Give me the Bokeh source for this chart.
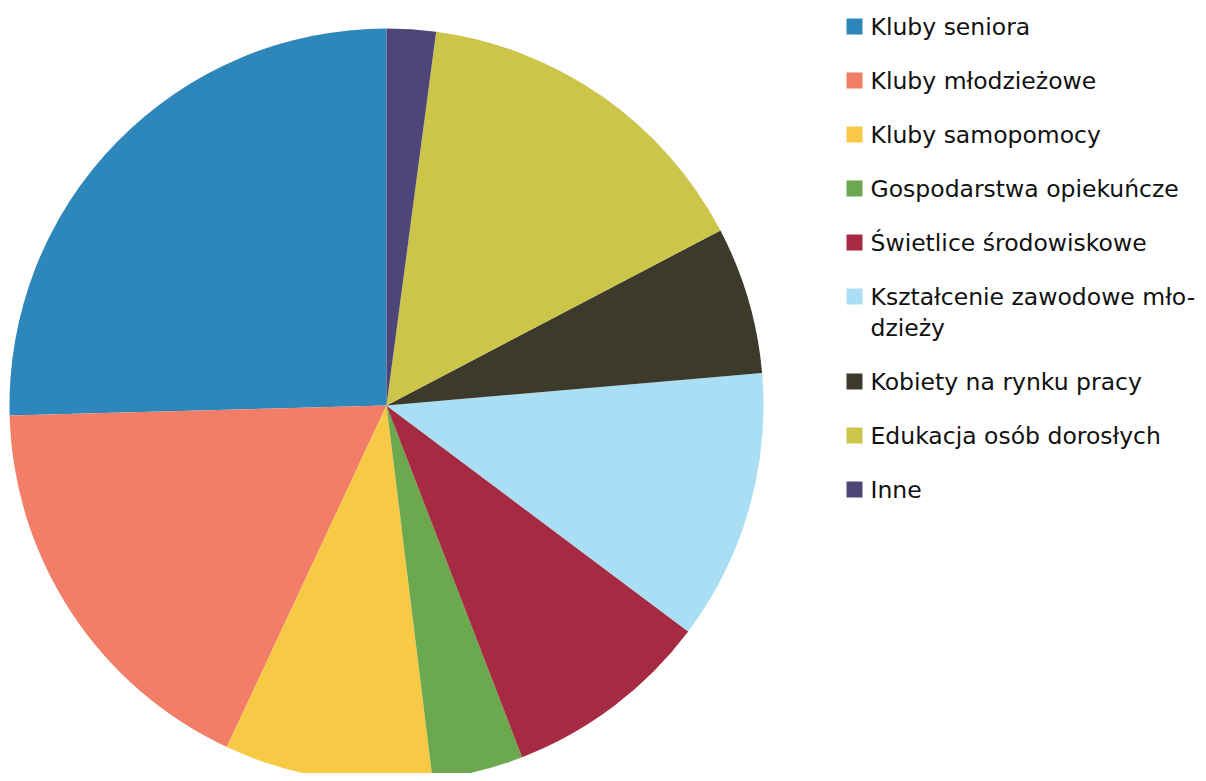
import math
from bokeh.plotting import figure
from bokeh.models import Range1d, ColumnDataSource
from bokeh.core.properties import value
from bokeh.embed import file_html
from bokeh.resources import INLINE

categories = ["Kluby seniora", "Kluby młodzieżowe", "Kluby samopomocy",
              "Gospodarstwa opiekuńcze", "Świetlice środowiskowe",
              "Kształcenie zawodowe mło-\ndzieży", "Kobiety na rynku pracy",
              "Edukacja osób dorosłych", "Inne"]
values = [25.4, 17.6, 8.9, 3.9, 8.9, 11.6, 6.3, 15.2, 2.1]
colors = ["#2E87BA", "#F27E67", "#F7C945", "#6BA84E", "#A62A42",
          "#A9DEF4", "#3C3A2B", "#CBC54A", "#4E4679"]

W, H = 1198, 773
p = figure(width=W, height=H, output_backend="svg", toolbar_location=None,
           x_range=Range1d(0, W), y_range=Range1d(781 - H, 781),
           min_border=0)
p.axis.visible = False
p.grid.visible = False
p.outline_line_color = None
p.background_fill_color = "white"

# pie: data coords x = px, y = 781 - py
cx, cy, r = 386, 781 - 405, 377
total = sum(values)
starts, ends = [], []
a = math.pi / 2
for v in values:
    starts.append(a)
    a += v / total * 2 * math.pi
    ends.append(a)
src = ColumnDataSource(dict(start=starts, end=ends, color=colors))
p.wedge(x=cx, y=cy, radius=r, start_angle="start", end_angle="end",
        color="color", line_color=None, source=src)

# legend
row_y = []
y = 26
for c in categories:
    row_y.append(y)
    y += 54 + 31 * c.count("\n")
sq_x = [854] * len(categories)
sq_y = [781 - v for v in row_y]
p.rect(x=sq_x, y=sq_y, width=16, height=16, fill_color=colors, line_color=None)

lines_x, lines_y, lines_t = [], [], []
for c, ry in zip(categories, row_y):
    for i, ln in enumerate(c.split("\n")):
        lines_x.append(870)
        lines_y.append(781 - (ry + 31 * i))
        lines_t.append(ln)
p.text(x=lines_x, y=lines_y, text=lines_t, text_font=value("DejaVu Sans"),
       text_font_size="23.5px", text_baseline="middle", text_align="left",
       text_color="#111111")

open("out.html", "w").write(file_html(p, INLINE))
